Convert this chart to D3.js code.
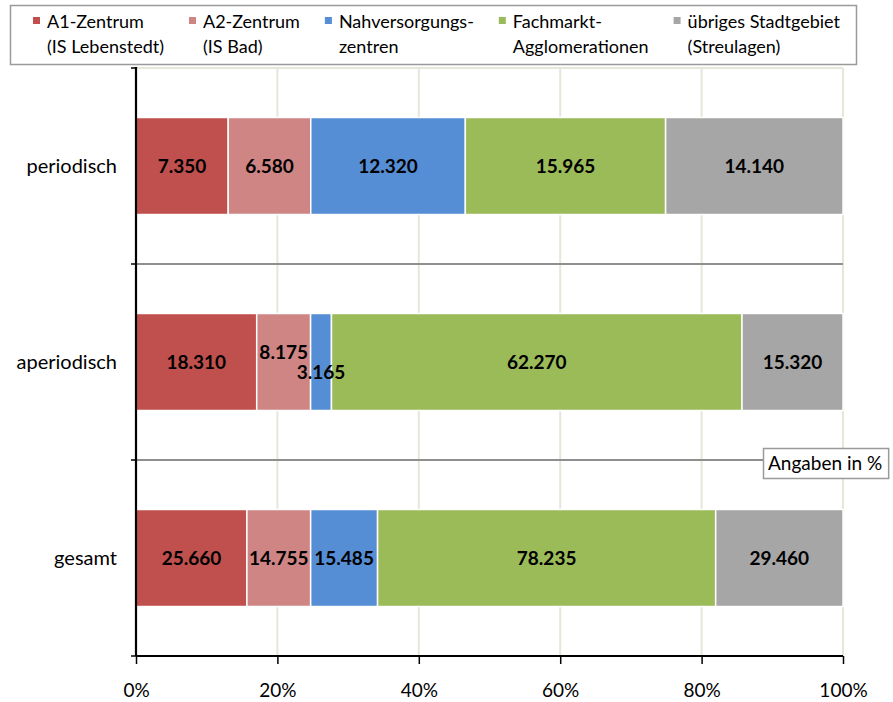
<!DOCTYPE html>
<html>
<head>
<meta charset="utf-8">
<script src="https://cdn.jsdelivr.net/npm/d3@7"></script>
<style>
  html, body { margin: 0; padding: 0; background: #ffffff; }
  svg { display: block; font-family: Lato, "Open Sans", sans-serif; }
</style>
</head>
<body>
<svg id="chart" width="893" height="702"></svg>
<script>
// Verkaufsflächen nach Standorttyp (absolute Werte, dargestellt als Anteile)
const categories = ["periodisch", "aperiodisch", "gesamt"];
const seriesNames = [
  ["A1-Zentrum", "(IS Lebenstedt)"],
  ["A2-Zentrum", "(IS Bad)"],
  ["Nahversorgungs-", "zentren"],
  ["Fachmarkt-", "Agglomerationen"],
  ["übriges Stadtgebiet", "(Streulagen)"]
];
const seriesColors = ["#C0504D", "#CF8584", "#558ED5", "#9BBB59", "#A6A6A6"];
const a1Zentrum   = [7350, 18310, 25660];
const a2Zentrum   = [6580, 8175, 14755];
const nahversorg  = [12320, 3165, 15485];
const fachmarkt   = [15965, 62270, 78235];
const streulagen  = [14140, 15320, 29460];
const tickValues  = [0, 0.2, 0.4, 0.6, 0.8, 1.0];
const unitNote    = "Angaben in %";

const seriesValues = [a1Zentrum, a2Zentrum, nahversorg, fachmarkt, streulagen];

const de = d3.formatLocale({ decimal: ",", thousands: ".", grouping: [3], currency: ["", " €"] });
const fmtNum = de.format(",d");
const fmtPct = d3.format(".0%");

const svg = d3.select("#chart");

// plot area
const plot = { left: 136, right: 843, top: 68, bottom: 656 };
const x = d3.scaleLinear().domain([0, 1]).range([plot.left, plot.right]);
const y = d3.scaleBand().domain(categories).range([plot.top, plot.bottom]).padding(0);
const barH = y.bandwidth() * 0.495;

// rows: shares per category
const rows = categories.map((c, ci) => {
  const vals = seriesValues.map(s => s[ci]);
  const total = d3.sum(vals);
  let acc = 0;
  const segs = vals.map((v, si) => {
    const s = { cat: c, si, value: v, x0: acc / total, x1: (acc + v) / total };
    acc += v;
    return s;
  });
  return { cat: c, segs };
});

// vertical gridlines
svg.append("g")
  .selectAll("line")
  .data(tickValues.filter(t => t > 0))
  .join("line")
  .attr("x1", d => x(d)).attr("x2", d => x(d))
  .attr("y1", plot.top).attr("y2", plot.bottom)
  .attr("stroke", "#E6E6D9").attr("stroke-width", 2);

// horizontal lines at category boundaries
const bounds = categories.map(c => y(c)).concat([plot.bottom]);
svg.append("g")
  .selectAll("line")
  .data(bounds.slice(0, -1))
  .join("line")
  .attr("x1", plot.left).attr("x2", plot.right)
  .attr("y1", d => d).attr("y2", d => d)
  .attr("stroke", (d, i) => i === 0 ? "#E6E6D9" : "#8F8F8F")
  .attr("stroke-width", 2);

// bars
const barG = svg.append("g");
rows.forEach(r => {
  const cy = y(r.cat) + y.bandwidth() / 2;
  barG.selectAll(null)
    .data(r.segs)
    .join("rect")
    .attr("x", d => x(d.x0))
    .attr("width", d => x(d.x1) - x(d.x0))
    .attr("y", cy - barH / 2)
    .attr("height", barH)
    .attr("fill", d => seriesColors[d.si])
    .attr("stroke", "#ffffff")
    .attr("stroke-width", 1.5);
});

// data labels, nudged apart vertically where neighbours collide
const labG = svg.append("g");
rows.forEach(r => {
  const cy = y(r.cat) + y.bandwidth() / 2;
  const texts = labG.selectAll(null)
    .data(r.segs)
    .join("text")
    .attr("x", d => (x(d.x0) + x(d.x1)) / 2)
    .attr("y", cy)
    .attr("dy", "0.36em")
    .attr("text-anchor", "middle")
    .attr("font-size", 19)
    .attr("font-weight", 700)
    .attr("fill", "#000")
    .text(d => fmtNum(d.value));
  const nodes = texts.nodes();
  for (let i = 0; i < nodes.length - 1; i++) {
    const a = nodes[i].getBBox(), b = nodes[i + 1].getBBox();
    if (a.x + a.width > b.x) {
      const shift = a.height * 0.43;
      d3.select(nodes[i]).attr("y", +d3.select(nodes[i]).attr("y") - shift);
      d3.select(nodes[i + 1]).attr("y", +d3.select(nodes[i + 1]).attr("y") + shift * 1.05);
    }
  }
});

// y axis (category) with ticks at band boundaries
const yAxisG = svg.append("g");
yAxisG.append("line")
  .attr("x1", plot.left).attr("x2", plot.left)
  .attr("y1", plot.top - 1).attr("y2", plot.bottom)
  .attr("stroke", "#000").attr("stroke-width", 2.2);
yAxisG.selectAll(".tk")
  .data(bounds)
  .join("line")
  .attr("class", "tk")
  .attr("x1", plot.left - 5).attr("x2", plot.left)
  .attr("y1", d => d).attr("y2", d => d)
  .attr("stroke", "#000").attr("stroke-width", 1.5);
yAxisG.selectAll("text")
  .data(categories)
  .join("text")
  .attr("x", plot.left - 19)
  .attr("y", d => y(d) + y.bandwidth() / 2)
  .attr("dy", "0.34em")
  .attr("text-anchor", "end")
  .attr("font-size", 20)
  .attr("fill", "#000")
  .text(d => d);

// x axis (percent)
const xAxis = d3.axisBottom(x)
  .tickValues(tickValues)
  .tickFormat(fmtPct)
  .tickSize(8)
  .tickPadding(20);
const xAxisG = svg.append("g")
  .attr("transform", `translate(0,${plot.bottom})`)
  .call(xAxis);
xAxisG.select(".domain").attr("stroke", "#000").attr("stroke-width", 2.2)
  .attr("d", `M${plot.left},0H${plot.right}`);
xAxisG.selectAll(".tick line").attr("stroke", "#000").attr("stroke-width", 1.5);
xAxisG.selectAll(".tick text")
  .attr("font-family", "Lato, sans-serif")
  .attr("font-size", 19)
  .attr("fill", "#000");

// legend
const legend = svg.append("g");
legend.append("rect")
  .attr("x", 10.5).attr("y", 5.5)
  .attr("width", 846).attr("height", 59)
  .attr("fill", "#fff")
  .attr("stroke", "#9A9A9A").attr("stroke-width", 1.5);
let lx = 33;
seriesNames.forEach((lines, i) => {
  const g = legend.append("g").attr("transform", `translate(${lx},0)`);
  g.append("rect")
    .attr("x", 0).attr("y", 17)
    .attr("width", 7).attr("height", 7)
    .attr("fill", seriesColors[i]);
  const t = g.append("text")
    .attr("x", 14).attr("y", 28)
    .attr("font-size", 18)
    .attr("fill", "#000");
  lines.forEach((ln, k) => {
    t.append("tspan").attr("x", 14).attr("y", 28 + k * 25).text(ln);
  });
  const w = t.node().getBBox().width;
  lx += 14 + w + 25;
});

// unit note
const note = svg.append("g");
const noteText = note.append("text")
  .attr("x", 768).attr("y", 470)
  .attr("font-size", 19)
  .attr("fill", "#000")
  .text(unitNote);
const nb = noteText.node().getBBox();
note.insert("rect", "text")
  .attr("x", 763.5).attr("y", 448.5)
  .attr("width", nb.width + 11).attr("height", 30)
  .attr("fill", "#fff")
  .attr("stroke", "#9A9A9A").attr("stroke-width", 1.5);
</script>
</body>
</html>
